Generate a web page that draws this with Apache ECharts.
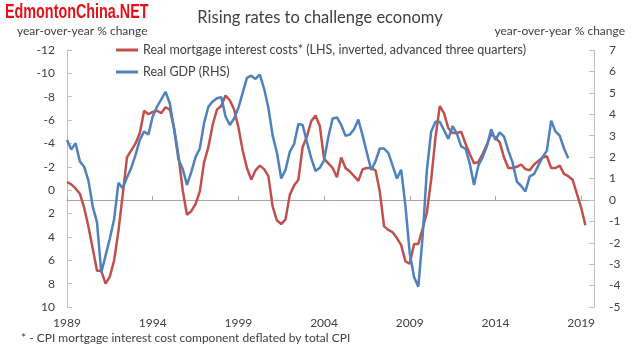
<!DOCTYPE html>
<html>
<head>
<meta charset="utf-8">
<script src="https://cdn.jsdelivr.net/npm/echarts@6/dist/echarts.min.js"></script>
<style>
  html, body { margin: 0; padding: 0; background: #fff; }
  #chart { width: 640px; height: 345px; }
</style>
</head>
<body>
<div id="chart"></div>
<script>
// Quarterly timeline, 1989Q1 to 2019Q4
const firstYear = 1989;
const lastYear = 2019;
const quarters = [];
for (let y = firstYear; y <= lastYear; y++) {
  for (let q = 1; q <= 4; q++) quarters.push(y + 'Q' + q);
}

// Real mortgage interest costs, y/y % (plotted on inverted left axis, advanced three quarters)
const mortgageCosts = [
  -0.7, -0.5, -0.15, 0.3, 1.5, 3.1, 5.0, 6.9, 6.9, 8.0,
  7.4, 6.0, 3.5, 0.4, -2.8, -3.4, -4.0, -4.9, -6.8, -6.5,
  -6.7, -6.8, -6.6, -7.1, -6.9, -5.3, -3.0, 0.0, 2.1, 1.8,
  1.2, 0.1, -2.4, -3.7, -5.6, -6.9, -7.2, -8.1, -7.7, -6.9,
  -5.4, -3.4, -1.9, -0.9, -1.7, -2.1, -1.8, -1.2, 1.4, 2.6,
  2.9, 2.5, 0.4, -0.4, -0.9, -3.7, -4.6, -5.9, -6.4, -5.5,
  -2.7, -2.3, -1.9, -1.1, -2.8, -1.9, -1.6, -1.2, -0.8, -1.8,
  -1.9, -1.9, -1.7, 0.1, 3.1, 3.4, 3.6, 4.1, 4.7, 6.1,
  6.3, 4.6, 4.6, 3.3, 1.9, -0.9, -4.5, -7.2, -6.6, -5.3,
  -4.9, -4.9, -5.0, -4.0, -3.1, -2.3, -2.4, -3.1, -3.9, -4.8,
  -4.5, -4.1, -2.8, -1.9, -1.9, -2.0, -2.2, -1.8, -1.7, -2.2,
  -2.5, -2.8, -2.9, -1.9, -1.9, -2.1, -1.4, -1.2, -0.9, 0.3,
  1.5, 3.0
];

// Real GDP, y/y % (right axis)
const realGdp = [
  2.8, 2.35, 2.65, 1.8, 1.55, 0.9, -0.3, -1.05, -3.4, -2.6,
  -1.8, -0.9, 0.8, 0.55, 1.05, 1.5, 2.1, 2.8, 3.2, 3.05,
  3.9, 4.35, 4.7, 5.05, 4.5, 3.3, 1.9, 1.45, 0.7, 1.3,
  2.0, 2.4, 3.6, 4.35, 4.6, 4.75, 4.8, 3.9, 3.5, 3.8,
  4.3, 5.0, 5.7, 5.8, 5.65, 5.85, 5.2, 4.3, 3.0, 2.2,
  1.0, 1.4, 2.25, 2.6, 3.55, 3.5, 2.7, 1.95, 1.35, 1.5,
  1.85, 2.95, 3.8, 3.85, 3.5, 3.0, 3.05, 3.3, 3.75, 3.0,
  2.2, 1.4, 1.8, 2.4, 2.4, 2.2, 1.6, 1.0, 1.4, -0.3,
  -2.5, -3.6, -4.05, -1.7, 1.4, 3.2, 3.65, 3.65, 3.25, 2.85,
  3.45, 3.1, 2.5, 2.4, 1.7, 0.7, 1.6, 2.0, 2.5, 3.3,
  2.8, 3.15, 2.95, 2.3, 1.75, 0.85, 0.65, 0.4, 1.1, 1.2,
  1.6, 2.0, 2.3, 3.7, 3.2, 3.0, 2.4, 1.95
];

const seriesNames = [
  'Real mortgage interest costs* (LHS, inverted, advanced three quarters)',
  'Real GDP (RHS)'
];
const chartTitle = 'Rising rates to challenge economy';
const axisCaption = 'year-over-year % change';
const footnote = '* - CPI mortgage interest cost component deflated by total CPI';
const siteMark = 'EdmontonChina.NET';

const font = 'Lato, Calibri, "Liberation Sans", sans-serif';
const textColor = '#404040';
const axisColor = '#bfbfbf';
const red = '#c0504d';
const blue = '#4f81bd';

const chart = echarts.init(document.getElementById('chart'), null, { renderer: 'canvas' });

chart.setOption({
  animation: false,
  backgroundColor: '#ffffff',
  graphic: [
    {
      type: 'text',
      x: 5,
      y: 2,
      scaleX: 0.7,
      style: {
        text: siteMark,
        fill: '#e8101a',
        font: 'bold 20.5px "Liberation Sans", Arial, sans-serif'
      }
    }
  ],
  title: [
    { text: chartTitle, left: 'center', top: 4,
      textStyle: { color: textColor, fontSize: 16.5, fontWeight: 'normal', fontFamily: font } },
    { text: axisCaption, left: 12, top: 20,
      textStyle: { color: textColor, fontSize: 12, fontWeight: 'normal', fontFamily: font } },
    { text: axisCaption, right: 10, top: 20,
      textStyle: { color: textColor, fontSize: 12, fontWeight: 'normal', fontFamily: font } },
    { text: footnote, left: 16, top: 327,
      textStyle: { color: textColor, fontSize: 12, fontWeight: 'normal', fontFamily: font } }
  ],
  legend: {
    orient: 'vertical',
    left: 111,
    top: 38,
    itemWidth: 22,
    itemHeight: 3,
    itemGap: 8,
    icon: 'rect',
    data: seriesNames,
    textStyle: { color: textColor, fontSize: 12.5, fontFamily: font, lineHeight: 14 }
  },
  grid: { left: 67, right: 46, top: 50, bottom: 38, containLabel: false },
  xAxis: [
    {
      type: 'category',
      data: quarters,
      boundaryGap: false,
      position: 'bottom',
      axisLine: { show: false, onZero: false },
      axisTick: { show: false },
      splitLine: { show: false },
      axisLabel: {
        interval: 19,
        margin: 10,
        color: textColor,
        fontSize: 12,
        fontFamily: font,
        formatter: v => v.slice(0, 4)
      }
    },
    {
      type: 'category',
      data: quarters,
      boundaryGap: false,
      position: 'top',
      axisLine: { show: true, onZero: true, onZeroAxisIndex: 1,
        lineStyle: { color: '#a6a6a6', width: 1 } },
      axisTick: { show: true, interval: 19, length: 4, lineStyle: { color: '#a6a6a6' } },
      axisLabel: { show: false },
      splitLine: { show: false }
    }
  ],
  yAxis: [
    {
      type: 'value',
      position: 'left',
      inverse: true,
      min: -12,
      max: 10,
      interval: 2,
      axisLine: { show: true, lineStyle: { color: axisColor } },
      axisTick: { show: true, inside: true, length: 5, lineStyle: { color: axisColor } },
      splitLine: { show: false },
      axisLabel: { margin: 12, color: textColor, fontSize: 12, fontFamily: font }
    },
    {
      type: 'value',
      position: 'right',
      min: -5,
      max: 7,
      interval: 1,
      axisLine: { show: true, lineStyle: { color: axisColor } },
      axisTick: { show: true, inside: true, length: 5, lineStyle: { color: axisColor } },
      splitLine: { show: false },
      axisLabel: { margin: 15, color: textColor, fontSize: 12, fontFamily: font }
    }
  ],
  series: [
    {
      name: seriesNames[0],
      type: 'line',
      xAxisIndex: 0,
      yAxisIndex: 0,
      data: mortgageCosts,
      symbol: 'none',
      color: red,
      lineStyle: { color: red, width: 2.5 },
      z: 3
    },
    {
      name: seriesNames[1],
      type: 'line',
      xAxisIndex: 0,
      yAxisIndex: 1,
      data: realGdp,
      symbol: 'none',
      color: blue,
      lineStyle: { color: blue, width: 2.5 },
      z: 4
    }
  ]
});
</script>
</body>
</html>
